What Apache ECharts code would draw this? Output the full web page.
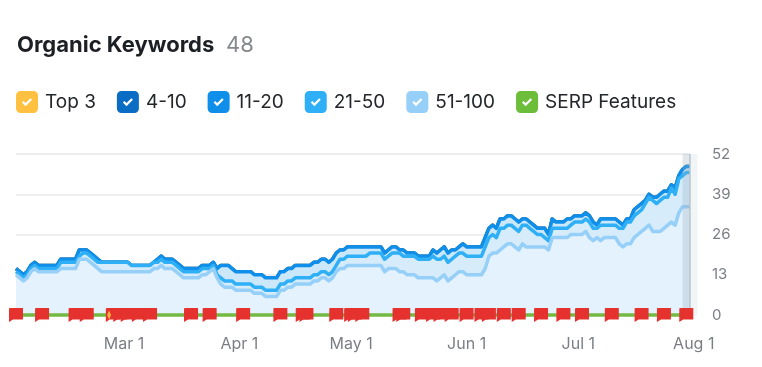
<!DOCTYPE html>
<html>
<head>
<meta charset="utf-8">
<style>
    html, body { margin: 0; padding: 0; background: #fff; }
    #chart { width: 762px; height: 367px; }
</style>
<script src="https://cdn.jsdelivr.net/npm/echarts@6/dist/echarts.min.js"></script>
</head>
<body>
<div id="chart"></div>
<script>
// one value per day, day 0 is Jan 31
const top3 = [
    0,0,0,0,0,0,0,0,0,0, 0,0,0,0,0,0,0,0,0,0, 0,0,0,0,0,0,0,0,0,0,
    0,0,0,0,0,0,0,0,0,0, 0,0,0,0,0,0,0,0,0,0, 0,0,0,0,0,0,0,0,0,0,
    0,0,0,0,0,0,0,0,0,0, 0,0,0,0,0,0,0,0,0,0, 0,0,0,0,0,0,0,0,0,0,
    0,0,0,0,0,0,0,0,0,0, 0,0,0,0,0,0,0,0,0,0, 0,0,0,0,0,0,0,0,0,0,
    0,0,0,0,0,0,0,0,0,0, 0,0,0,0,0,0,0,0,0,0, 0,0,0,0,0,0,0,0,0,0,
    0,0,0,0,0,0,0,0,0,0, 0,0,0,0,0,0,0,0,0,0, 0,0,0,0,0,0,0,0,0,0,0,0
];
const pos4to10 = [
    0,0,0,0,0,0,0,0,0,0, 0,0,0,0,0,0,0,0,0,0, 0,0,0,0,0,0,0,0,0,0,
    0,0,0,0,0,0,0,0,0,0, 0,0,0,0,0,0,0,0,0,0, 0,0,0,0,0,0,0,0,0,0,
    0,0,0,0,0,0,0,0,0,0, 0,0,0,0,0,0,0,0,0,0, 0,0,0,0,0,0,0,0,0,0,
    0,0,0,0,0,0,0,0,0,0, 0,0,0,0,0,0,0,0,0,0, 0,0,0,0,0,0,0,0,0,0,
    0,0,0,0,0,0,0,0,0,0, 0,0,0,0,0,0,0,0,0,0, 0,0,0,0,0,0,0,0,0,0,
    0,0,0,0,0,0,0,0,0,0, 0,0,0,0,0,0,0,0,0,0, 0,0,0,0,0,0,0,0,0,0,0,0
];
const pos11to20 = [
    1,1,1,1,1,1,1,1,1,1, 1,1,1,1,1,1,1,2,1,1, 1,1,1,0,0,0,0,0,0,0,
    0,0,0,0,0,0,0,0,1,1, 1,1,1,1,1,1,1,1,1,1, 1,1,1,1,2,4,5,5,4,4,
    4,4,4,4,4,4,4,4,4,4, 4,4,4,4,4,4,4,4,4,4, 4,4,4,4,4,4,4,3,3,3,
    3,3,3,3,3,2,2,2,2,2, 2,2,2,1,2,1,1,1,1,1, 1,1,2,2,3,3,3,3,2,2,
    3,3,3,3,3,3,3,3,3,3, 3,3,3,3,3,3,2,2,2,2, 2,2,3,2,3,2,2,2,3,2,
    2,2,2,2,2,2,1,2,2,2, 2,2,2,1,1,1,2,2,2,1, 1,1,2,2,2,2,1,2,1,2,2,2
];
const pos21to50 = [
    1,1,1,1,1,1,1,1,1,1, 1,1,2,2,2,2,2,1,2,2, 2,2,2,3,3,3,3,3,3,3,
    3,2,2,2,2,2,2,2,2,2, 2,2,2,2,2,2,2,2,2,2, 2,2,1,1,1,2,2,2,2,2,
    2,2,2,2,2,2,2,2,2,2, 2,2,2,2,2,2,2,2,2,2, 2,2,2,2,2,2,2,3,3,3,
    3,3,3,3,3,4,4,4,4,4, 4,5,5,6,5,6,6,6,6,6, 6,6,7,7,6,6,6,6,6,6,
    6,6,6,6,6,6,7,6,6,5, 7,6,6,6,6,6,6,7,6,5, 4,4,3,3,3,3,3,3,3,3,
    4,4,4,4,5,4,3,5,4,4, 4,4,5,6,7,7,7,7,7,8, 9,10,9,10,10,9,11,10,11,10,11,11
];
const pos51to100 = [
    13,12,11,12,14,15,14,14,14,14, 14,14,15,15,15,15,15,18,18,18, 17,16,15,14,14,14,14,14,14,14,
    14,14,14,14,14,14,14,15,15,16, 15,15,15,14,13,12,12,12,12,12, 13,13,14,15,12,10,9,9,9,8,
    8,8,8,8,7,7,7,6,6,6, 6,8,8,9,9,10,10,10,10,10, 11,11,12,12,11,12,14,15,15,16,
    16,16,16,16,16,16,16,16,16,14, 15,15,15,14,14,13,13,13,12,12, 12,12,12,11,12,13,11,12,13,14,
    14,13,13,13,13,13,15,19,20,20, 21,22,23,23,22,21,23,22,22,22, 22,22,22,21,25,25,25,25,25,26,
    26,26,26,27,25,24,25,24,25,25, 25,25,23,22,23,23,25,26,27,28, 29,27,27,27,28,29,30,29,33,35,35,35
];
// days that carry a red flag
const flagDays = [0,7,16,19,26,28,30,33,36,47,52,61,71,77,78,86,90,91,93,103,104,109,112,114,117,121,125,127,131,135,141,147,152,160,168,174,180];
const noteDays = [25];
const yTicks = [0, 13, 26, 39, 52];
const xTickDays = [29, 60, 90, 121, 151, 182];
const xTickLabels = ['Mar 1', 'Apr 1', 'May 1', 'Jun 1', 'Jul 1', 'Aug 1'];

const dayIndex = top3.map((v, i) => i);
const check = 'path://M5 0H19A5 5 0 0 1 24 5V19A5 5 0 0 1 19 24H5A5 5 0 0 1 0 19V5A5 5 0 0 1 5 0ZM6.5 12.5L10.5 16.5L17.5 9.5L15.8 7.8L10.5 13.1L8.2 10.8Z';
const flag = 'path://M1 0H14V11.5H4L0 14V1A1 1 0 0 1 1 0Z';
const font = 'Inter, "Open Sans", sans-serif';

function bucket(name, values, color, area, z) {
    return {
        name: name,
        type: 'line',
        stack: 'kw',
        data: values,
        symbol: 'none',
        z: z,
        itemStyle: { color: color },
        lineStyle: { color: color, width: 3.5, join: 'round' },
        areaStyle: area ? { color: area, opacity: 1 } : { opacity: 0 }
    };
}

const myChart = echarts.init(document.getElementById('chart'));
myChart.setOption({
    animation: false,
    textStyle: { fontFamily: font },
    title: [
        { text: 'Organic Keywords', left: 12, top: 29, textStyle: { fontFamily: font, fontSize: 22, fontWeight: 700, color: '#1c1f24' } },
        { text: '48', left: 221, top: 29, textStyle: { fontFamily: font, fontSize: 22, fontWeight: 400, color: '#85898e' } }
    ],
    legend: {
        left: 11,
        top: 86,
        itemWidth: 22,
        itemHeight: 22,
        itemGap: 21,
        icon: check,
        textStyle: { fontFamily: font, fontSize: 19, color: '#23262b', padding: [0, 0, 0, 2] },
        data: ['Top 3', '4-10', '11-20', '21-50', '51-100', 'SERP Features']
    },
    grid: [
        { left: 16, top: 154, right: 72, bottom: 52 },
        { left: 16, top: 154, width: 681.5, bottom: 52 }
    ],
    xAxis: [
        {
            type: 'category', gridIndex: 0, data: dayIndex, boundaryGap: false,
            axisLine: { show: false }, axisTick: { show: false }, axisLabel: { show: false }, splitLine: { show: false }
        },
        {
            type: 'value', gridIndex: 1, min: 0, max: 183,
            axisLine: { show: false }, axisTick: { show: false }, splitLine: { show: false },
            axisLabel: {
                customValues: xTickDays,
                margin: 21,
                fontSize: 16,
                fontFamily: font,
                color: '#7b7f85',
                formatter: function (value) {
                    return xTickLabels[xTickDays.indexOf(value)] || '';
                }
            }
        }
    ],
    yAxis: [
        {
            type: 'value', gridIndex: 0, position: 'right', min: yTicks[0], max: yTicks[4], interval: 13,
            axisLine: { show: false }, axisTick: { show: false },
            axisLabel: { margin: 22, fontSize: 15, fontFamily: font, color: '#7b7f85' },
            splitLine: { lineStyle: { color: '#e6e8ea', width: 1.5 } }
        },
        { type: 'value', gridIndex: 1, min: 0, max: 52, show: false }
    ],
    series: [
        bucket('51-100', pos51to100, '#96cff8', '#e4f2fd', 6),
        bucket('21-50', pos21to50, '#2fb0f6', '#d6ecfb', 5),
        bucket('11-20', pos11to20, '#0f8fe9', '#cbe7fa', 4),
        bucket('4-10', pos4to10, '#0a6cc2', null, 3),
        bucket('Top 3', top3, '#ffc13f', null, 2),
        {
            name: 'SERP Features',
            type: 'line',
            data: top3,
            symbol: 'none',
            clip: false,
            z: 7,
            itemStyle: { color: '#6cbd3a' },
            lineStyle: { color: '#74b943', width: 3.5 }
        },
        {
            name: 'Flags',
            type: 'scatter',
            data: flagDays.map(d => [d, 0]),
            symbol: flag,
            symbolSize: 14,
            clip: false,
            z: 8,
            itemStyle: { color: '#e5322f', opacity: 1 },
            silent: true
        },
        {
            name: 'Notes',
            type: 'scatter',
            data: noteDays.map(d => [d, 0]),
            symbol: 'diamond',
            symbolSize: [4, 9],
            clip: false,
            z: 9,
            itemStyle: { color: '#f5b040', opacity: 1 },
            silent: true
        },
        {
            // hover band on the last days, drawn on the wider label grid
            name: 'Hover',
            type: 'line',
            xAxisIndex: 1,
            yAxisIndex: 1,
            data: [[181, 0]],
            symbol: 'none',
            silent: true,
            z: 1,
            lineStyle: { opacity: 0 },
            markArea: {
                silent: true,
                z: 7,
                data: [
                    [{ xAxis: 179, itemStyle: { color: 'rgba(150,170,185,0.28)' } }, { xAxis: 181 }],
                    [{ xAxis: 181, itemStyle: { color: 'rgba(150,170,185,0.12)' } }, { xAxis: 183 }]
                ]
            },
            markLine: {
                silent: true,
                symbol: 'none',
                z: 7,
                label: { show: false },
                lineStyle: { color: '#b9c5ce', width: 1.5, type: 'solid' },
                data: [{ xAxis: 181 }]
            }
        }
    ]
});
</script>
</body>
</html>
